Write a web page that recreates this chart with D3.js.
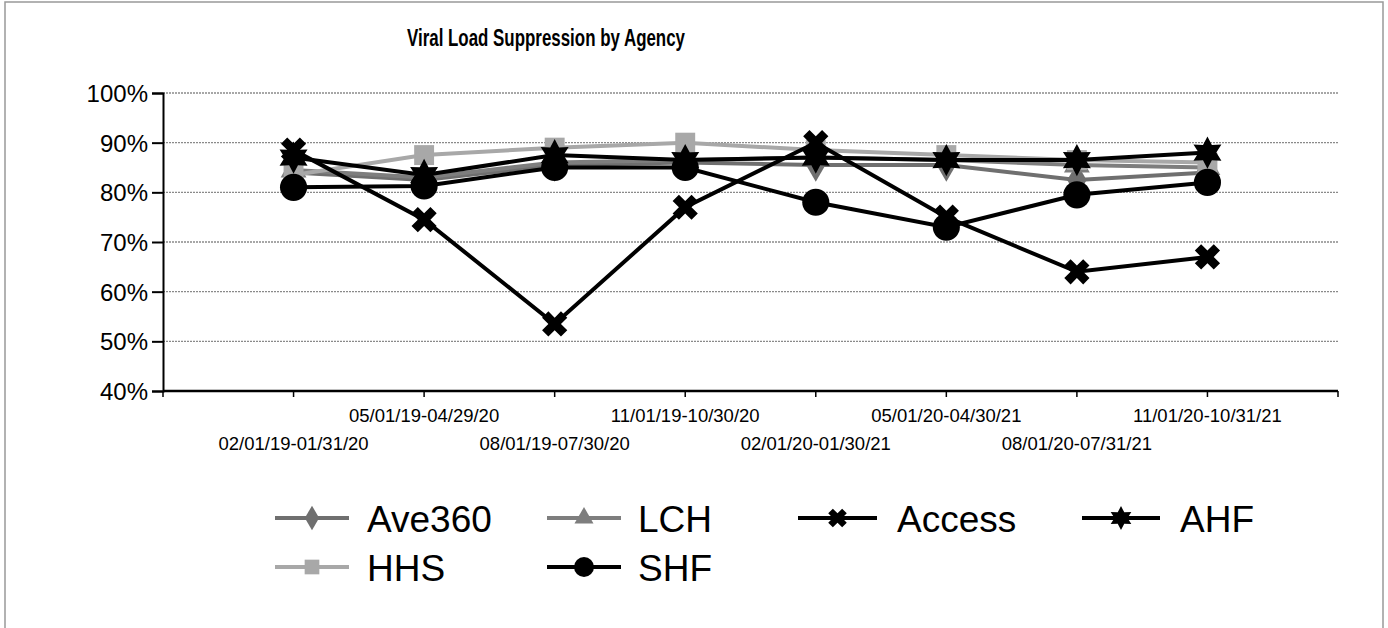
<!DOCTYPE html>
<html>
<head>
<meta charset="utf-8">
<script src="https://cdn.jsdelivr.net/npm/d3@7"></script>
<style>
  body { margin: 0; background: #fff; }
  svg { font-family: "Liberation Sans", Arial, sans-serif; }
</style>
</head>
<body>
<svg width="1388" height="628"></svg>
<script>
// data
const periods = [
  "02/01/19-01/31/20", "05/01/19-04/29/20", "08/01/19-07/30/20", "11/01/19-10/30/20",
  "02/01/20-01/30/21", "05/01/20-04/30/21", "08/01/20-07/31/21", "11/01/20-10/31/21"
];
const ave360 = [84, 82.5, 85.5, 86, 85.5, 85.5, 82.5, 84];
const lch = [84.5, 83, 86, 86.5, 87, 86.5, 85.5, 85];
const access = [88.5, 74.5, 53.5, 77, 90, 75, 64, 67];
const ahf = [87, 83.5, 87.5, 86.5, 87, 86.5, 86.5, 88];
const hhs = [83.5, 87.5, 89, 90, 88.5, 87.5, 86.5, 86];
const shf = [81, 81.3, 85, 85, 78, 73, 79.5, 82];
const yTicks = [40, 50, 60, 70, 80, 90, 100];

const svg = d3.select("svg");

//* frame
svg.append("rect")
  .attr("x", 5).attr("y", 2).attr("width", 1378).attr("height", 640)
  .attr("fill", "none").attr("stroke", "#999").attr("stroke-width", 1.5);

//* scales
const x = d3.scalePoint().domain(periods).range([163, 1338]).padding(1);
const y = d3.scaleLinear().domain([40, 100]).range([391, 93]);

// six point star for AHF
function star6(r) {
  const pts = d3.range(12).map((i) => {
    const a = (Math.PI / 6) * i - Math.PI / 2;
    const rr = i % 2 === 0 ? r : r * 0.55;
    return [rr * Math.cos(a), rr * Math.sin(a)];
  });
  return "M" + pts.join("L") + "Z";
}
const markers = {
  diamond: (s) => d3.symbol(d3.symbolDiamond, s * s * 0.9)(),
  triangle: (s) => d3.symbol(d3.symbolTriangle, s * s * 0.8)(),
  square: (s) => d3.symbol(d3.symbolSquare, s * s * 1.1)(),
  circle: (s) => d3.symbol(d3.symbolCircle, s * s * 1.6)(),
  cross: (s) => d3.symbol(d3.symbolCross, s * s * 1.1)(),
  star: (s) => star6(s * 0.85)
};

const series = [
  { name: "Ave360", values: ave360, color: "#6f6f6f", marker: "diamond", rot: 0 },
  { name: "LCH", values: lch, color: "#7e7e7e", marker: "triangle", rot: 0 },
  { name: "HHS", values: hhs, color: "#a8a8a8", marker: "square", rot: 0 },
  { name: "SHF", values: shf, color: "#000", marker: "circle", rot: 0 },
  { name: "AHF", values: ahf, color: "#000", marker: "star", rot: 0 },
  { name: "Access", values: access, color: "#000", marker: "cross", rot: 45 }
];

//* title
svg.append("text")
  .attr("x", 546).attr("y", 46)
  .attr("text-anchor", "middle")
  .attr("textLength", 278).attr("lengthAdjust", "spacingAndGlyphs")
  .style("font-size", "23px").style("font-weight", "bold")
  .text("Viral Load Suppression by Agency");

//* grid
svg.append("g")
  .selectAll("line")
  .data(yTicks.slice(1))
  .enter()
  .append("line")
  .attr("x1", 163).attr("x2", 1338)
  .attr("y1", (d) => y(d)).attr("y2", (d) => y(d))
  .attr("stroke", "#8a8a8a").attr("stroke-width", 1.4)
  .attr("stroke-dasharray", "2,1");

//* axes
const yAxis = svg.append("g")
  .attr("transform", "translate(163,0)")
  .call(d3.axisLeft(y).tickValues(yTicks).tickSize(11).tickFormat((d) => d + "%"));
yAxis.selectAll("text").style("font-size", "24px").attr("fill", "#000").attr("dx", "-1").attr("dy", "0.36em");
yAxis.select(".domain").attr("stroke-width", 2);
yAxis.selectAll(".tick line").attr("stroke-width", 2);

const xAxisG = svg.append("g").attr("transform", "translate(0,391)");
xAxisG.append("line").attr("x1", 163).attr("x2", 1338).attr("stroke", "#000").attr("stroke-width", 2.5);
const xTickPos = [163].concat(periods.map((p) => x(p)), [1338]);
xAxisG.selectAll("line.tick")
  .data(xTickPos)
  .enter()
  .append("line")
  .attr("class", "tick")
  .attr("x1", (d) => d).attr("x2", (d) => d)
  .attr("y1", 0).attr("y2", 6)
  .attr("stroke", "#000").attr("stroke-width", 1.5);
xAxisG.selectAll("text")
  .data(periods)
  .enter()
  .append("text")
  .attr("x", (d) => x(d))
  .attr("y", (_, i) => (i % 2 === 0 ? 59 : 31))
  .attr("text-anchor", "middle")
  .style("font-size", "18.5px")
  .text((d) => d);

//* lines and markers
const line = d3.line()
  .x((_, i) => x(periods[i]))
  .y((d) => y(d));

const groups = svg.selectAll("g.series")
  .data(series)
  .enter()
  .append("g")
  .attr("class", "series");

groups.append("path")
  .attr("d", (d) => line(d.values))
  .attr("fill", "none")
  .attr("stroke", (d) => d.color)
  .attr("stroke-width", 4);

groups.each(function (s) {
  d3.select(this).selectAll("path.mk")
    .data(s.values)
    .enter()
    .append("path")
    .attr("class", "mk")
    .attr("d", markers[s.marker](19))
    .attr("transform", (d, i) => `translate(${x(periods[i])},${y(d)}) rotate(${s.rot})`)
    .attr("fill", s.color);
});

//* legend
const legendItems = [
  { s: series[0], x: 275, y: 518, w: 74, tx: 92 },
  { s: series[1], x: 547, y: 518, w: 74, tx: 91 },
  { s: series[5], x: 798, y: 518, w: 79, tx: 99 },
  { s: series[4], x: 1082, y: 518, w: 78, tx: 98 },
  { s: series[2], x: 275, y: 567, w: 74, tx: 92 },
  { s: series[3], x: 547, y: 567, w: 74, tx: 91 }
];
const legend = svg.selectAll("g.legend")
  .data(legendItems)
  .enter()
  .append("g")
  .attr("class", "legend")
  .attr("transform", (d) => `translate(${d.x},${d.y})`);
legend.append("line")
  .attr("x1", 0).attr("x2", (d) => d.w)
  .attr("stroke", (d) => d.s.color).attr("stroke-width", 4);
legend.append("path")
  .attr("d", (d) => markers[d.s.marker](14))
  .attr("transform", (d) => `translate(${d.w / 2},0) rotate(${d.s.rot})`)
  .attr("fill", (d) => d.s.color);
legend.append("text")
  .attr("x", (d) => d.tx).attr("y", 14)
  .style("font-size", "37px")
  .text((d) => d.s.name);
</script>
</body>
</html>
